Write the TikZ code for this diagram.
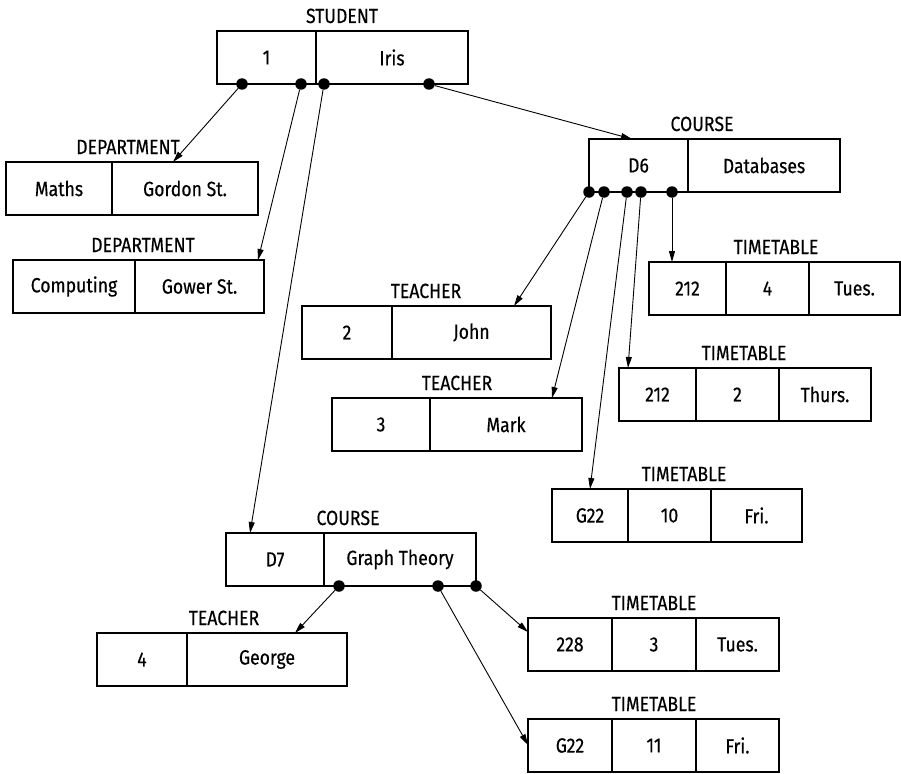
\documentclass[tikz,border=0pt]{standalone}
\usepackage{fontspec}
\setmainfont{Fira Sans}[FakeStretch=0.86,FakeBold=0.4]
\usetikzlibrary{calc,arrows.meta}

\begin{document}
\begin{tikzpicture}[x=1pt,y=-1pt,
  font=\fontsize{20.5}{24}\selectfont,
  cell/.style={rectangle,draw,anchor=north west,minimum height=53pt,
    inner sep=0pt,outer sep=0pt,line width=1.3pt},
  title/.style={anchor=base,inner sep=0pt},
  dot/.style={circle,fill,inner sep=0pt,minimum size=11.5pt},
  arr/.style={line width=0.9pt,-{Triangle[length=11pt,width=6pt]}}]
\useasboundingbox (0,0) rectangle (901,773);

% student
\node [cell,minimum width=99pt] (stuA) at (217,31) {1};
\node [cell,minimum width=152pt] (stuB) at (316,31) {Iris};
\node [title] (stuT) at (342,23) {STUDENT};

% departments
\node [cell,minimum width=106pt] (dep1A) at (6,162) {Maths};
\node [cell,minimum width=146pt] (dep1B) at (112,162) {Gordon St.};
\node [title] (dep1T) at (128,154) {DEPARTMENT};
\node [cell,minimum width=122pt] (dep2A) at (13,260) {Computing};
\node [cell,minimum width=129pt] (dep2B) at (135,260) {Gower St.};
\node [title] (dep2T) at (143,252) {DEPARTMENT};

% course D6
\node [cell,minimum width=99pt] (crsAa) at (589,139) {D6};
\node [cell,minimum width=152pt] (crsAb) at (688,139) {Databases};
\node [title] (crsAT) at (702,131) {COURSE};

% teachers of D6
\node [cell,minimum width=90pt] (tchJA) at (302,306) {2};
\node [cell,minimum width=159pt] (tchJB) at (392,306) {John};
\node [title] (tchJT) at (426,298) {TEACHER};
\node [cell,minimum width=98pt] (tchMA) at (332,398) {3};
\node [cell,minimum width=152pt] (tchMB) at (430,398) {Mark};
\node [title] (tchMT) at (457,390) {TEACHER};

% timetables of D6
\node [cell,minimum width=77pt] (tt1A) at (649,262) {212};
\node [cell,minimum width=83pt] (tt1B) at (726,262) {4};
\node [cell,minimum width=91pt] (tt1C) at (809,262) {Tues.};
\node [title] (tt1T) at (776,254) {TIMETABLE};
\node [cell,minimum width=77pt] (tt2A) at (619,368) {212};
\node [cell,minimum width=83pt] (tt2B) at (696,368) {2};
\node [cell,minimum width=92pt] (tt2C) at (779,368) {Thurs.};
\node [title] (tt2T) at (744,360) {TIMETABLE};
\node [cell,minimum width=76pt] (tt3A) at (552,489) {G22};
\node [cell,minimum width=83pt] (tt3B) at (628,489) {10};
\node [cell,minimum width=91pt] (tt3C) at (711,489) {Fri.};
\node [title] (tt3T) at (684,481) {TIMETABLE};

% course D7
\node [cell,minimum width=98pt] (crsBa) at (226,533) {D7};
\node [cell,minimum width=152pt] (crsBb) at (324,533) {Graph Theory};
\node [title] (crsBT) at (348,525) {COURSE};
\node [cell,minimum width=90pt] (tchGA) at (97,633) {4};
\node [cell,minimum width=160pt] (tchGB) at (187,633) {George};
\node [title] (tchGT) at (224,625) {TEACHER};
\node [cell,minimum width=84pt] (tt4A) at (528,618) {228};
\node [cell,minimum width=84pt] (tt4B) at (612,618) {3};
\node [cell,minimum width=83pt] (tt4C) at (696,618) {Tues.};
\node [title] (tt4T) at (654,610) {TIMETABLE};
\node [cell,minimum width=84pt] (tt5A) at (528,719) {G22};
\node [cell,minimum width=84pt] (tt5B) at (612,719) {11};
\node [cell,minimum width=83pt] (tt5C) at (696,719) {Fri.};
\node [title] (tt5T) at (654,711) {TIMETABLE};

% pointer dots
\node [dot] (sd1) at ($(stuA.south west)+(25,0)$) {};
\node [dot] (sd2) at ($(stuA.south west)+(84,0)$) {};
\node [dot] (sd3) at ($(stuB.south west)+(8,0)$) {};
\node [dot] (sd4) at ($(stuB.south west)+(113,0)$) {};
\node [dot] (cd1) at (crsAa.south west) {};
\node [dot] (cd2) at ($(crsAa.south west)+(15,0)$) {};
\node [dot] (cd3) at ($(crsAa.south west)+(38,0)$) {};
\node [dot] (cd4) at ($(crsAa.south west)+(52,0)$) {};
\node [dot] (cd5) at ($(crsAa.south west)+(83,0)$) {};
\node [dot] (gd1) at ($(crsBb.south west)+(15,0)$) {};
\node [dot] (gd2) at ($(crsBb.south west)+(114,0)$) {};
\node [dot] (gd3) at (crsBb.south east) {};

% pointers
\draw [arr] (sd1) -- ($(dep1B.north west)+(61,0)$);
\draw [arr] (sd2) -- ($(dep2B.north east)+(-6,0)$);
\draw [arr] (sd3) -- ($(crsBa.north west)+(24,0)$);
\draw [arr] (sd4) -- ($(crsAa.north west)+(43,0)$);
\draw [arr] (cd1) -- ($(tchJB.north west)+(122,0)$);
\draw [arr] (cd2) -- ($(tchMB.north west)+(122,0)$);
\draw [arr] (cd3) -- ($(tt3A.north west)+(38,0)$);
\draw [arr] (cd4) -- ($(tt2A.north west)+(9,0)$);
\draw [arr] (cd5) -- ($(tt1A.north west)+(23,0)$);
\draw [arr] (gd1) -- ($(tchGB.north west)+(108,0)$);
\draw [arr] (gd3) -- ($(tt4A.north west)+(0,14)$);
\draw [arr] (gd2) -- ($(tt5A.north west)+(0,26)$);
\end{tikzpicture}
\end{document}
